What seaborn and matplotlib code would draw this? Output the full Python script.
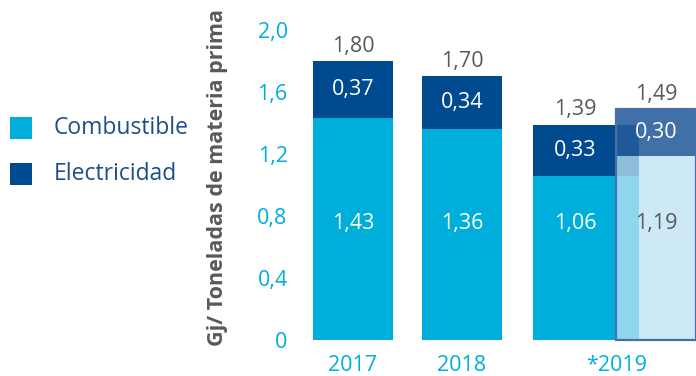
import matplotlib
matplotlib.use("Agg")
import matplotlib.pyplot as plt
from matplotlib.patches import Rectangle
import seaborn as sns

# Energy intensity per tonne of raw material
years = ["2017", "2018", "*2019"]
combustible = [1.43, 1.36, 1.06]
electricidad = [0.37, 0.34, 0.33]
totales = [1.80, 1.70, 1.39]

# Projected 2019 figures (shaded box)
proy_combustible = 1.19
proy_electricidad = 0.30
proy_total = 1.49

y_ticks = [0, 0.4, 0.8, 1.2, 1.6, 2.0]

CYAN = "#00aedb"
NAVY = "#004a8f"
LIGHT = "#bce2f3"
PROJ_TOP = "#255c9b"
EDGE = "#4a6ea8"
GREY = "#58595b"
LEGEND_TXT = "#1d4f8b"

sns.set_theme(style="white")
plt.rcParams["font.family"] = ["Open Sans", "DejaVu Sans"]

W, H = 696, 376
fig = plt.figure(figsize=(W / 100, H / 100), dpi=100)

# axes in pixel units horizontally, data units vertically
ax_left, ax_base = 296, 340
px_per_unit = 155
ax = fig.add_axes([ax_left / W, (H - ax_base) / H, (W - ax_left) / W, ax_base / H])
ax.set_xlim(0, W - ax_left)
ax.set_ylim(0, ax_base / px_per_unit)

# bar layout (left edge, drawn width, label centre)
lefts = [17, 126, 237]
widths = [80, 80, 106]
centres = [57, 166, 279]
proy_left, proy_width = 320, 80
proy_centre = proy_left + proy_width / 2


def fmt(v):
    return f"{v:.2f}".replace(".", ",")


def draw_bar(left, width, value, colour):
    sns.barplot(x=[left + width / 2], y=[value], native_scale=True, orient="x",
                width=width, color=colour, saturation=1, errorbar=None, ax=ax,
                linewidth=0)


for i in range(len(years)):
    draw_bar(lefts[i], widths[i], totales[i], NAVY)
    draw_bar(lefts[i], widths[i], combustible[i], CYAN)

# translucent projection box over the last bar
ax.bar(proy_left, proy_combustible, width=proy_width, align="edge",
       color=LIGHT, alpha=0.76, linewidth=0, zorder=3)
ax.bar(proy_left, proy_electricidad, bottom=proy_combustible, width=proy_width,
       align="edge", color=PROJ_TOP, alpha=0.88, linewidth=0, zorder=3)
ax.bar(proy_left, proy_total, width=proy_width, align="edge", fill=False,
       edgecolor=EDGE, linewidth=1.6, zorder=4, clip_on=False)

ax.set_xlim(0, W - ax_left)
ax.set_ylim(0, ax_base / px_per_unit)

fs = 15.5
label_y = 0.75
for i in range(len(years)):
    ax.annotate(fmt(totales[i]), (centres[i], totales[i]),
                xytext=(0, 3), textcoords="offset points", ha="center", va="bottom",
                fontsize=fs, color=GREY)
    ax.text(centres[i], combustible[i] + electricidad[i] / 2, fmt(electricidad[i]),
            ha="center", va="center", fontsize=fs, color="white", zorder=5)
    ax.text(centres[i], label_y, fmt(combustible[i]),
            ha="center", va="center", fontsize=fs, color="white", zorder=2.5)

ax.annotate(fmt(proy_total), (proy_centre, proy_total),
            xytext=(0, 3), textcoords="offset points", ha="center", va="bottom",
            fontsize=fs, color=GREY)
ax.text(proy_centre, proy_combustible + proy_electricidad / 2, fmt(proy_electricidad),
        ha="center", va="center", fontsize=fs, color="white", zorder=5)
ax.text(proy_centre, label_y, fmt(proy_combustible),
        ha="center", va="center", fontsize=fs, color=GREY, zorder=5)

# axes decoration
ax.set_yticks(y_ticks)
ax.set_yticklabels([("0" if v == 0 else f"{v:.1f}".replace(".", ",")) for v in y_ticks])
ax.set_xticks([centres[0], centres[1], 321])
ax.set_xticklabels(years)
ax.tick_params(axis="y", length=0, pad=6, labelsize=15.5, labelcolor=CYAN)
ax.tick_params(axis="x", length=0, pad=11, labelsize=15.5, labelcolor=CYAN)
for s in ax.spines.values():
    s.set_visible(False)
ax.set_xlabel("")
ax.set_ylabel("")
ax.patch.set_alpha(0)

fig.text(218 / W, 1 - 177 / H, "Gj/ Toneladas de materia prima",
         rotation=90, ha="center", va="center", fontsize=15.5, fontweight="bold",
         color=GREY)

# legend
for (label, colour, yc) in [("Combustible", CYAN, 128), ("Electricidad", NAVY, 174)]:
    fig.add_artist(Rectangle((10 / W, (H - yc - 11) / H), 22 / W, 22 / H,
                             transform=fig.transFigure, color=colour, lw=0))
    fig.text(54 / W, (H - yc) / H, label, ha="left", va="center", fontsize=16.5,
             color=LEGEND_TXT)

fig.savefig("out.png", dpi=100)
